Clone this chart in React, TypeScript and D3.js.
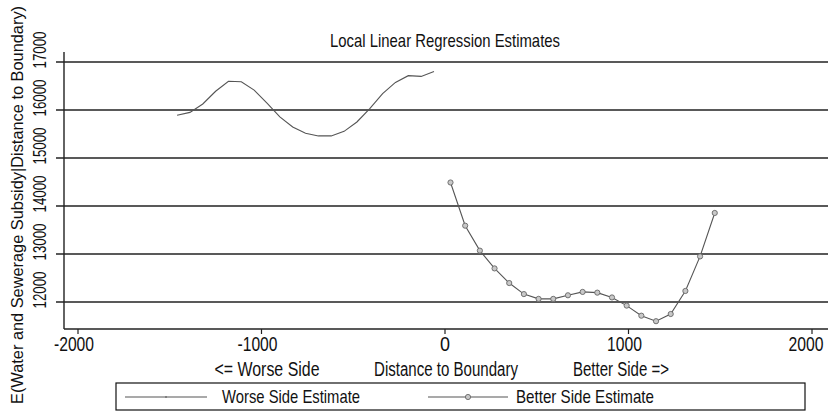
import React from 'react';
import { scaleLinear, line } from 'd3';

// worse side (left of boundary) local linear estimates
const worseX = [
  -1460, -1390, -1320, -1250, -1180, -1110, -1040, -970, -900, -830, -760,
  -690, -620, -550, -480, -410, -340, -270, -200, -130, -60,
];
const worseY = [
  15890, 15950, 16125, 16390, 16600, 16590, 16415, 16145, 15855, 15645, 15515,
  15460, 15460, 15555, 15750, 16030, 16340, 16575, 16715, 16700, 16800,
];

// better side (right of boundary)
const betterX = [
  30, 110, 190, 270, 350, 430, 510, 590, 670, 750, 830, 910, 990, 1070, 1150,
  1230, 1310, 1390, 1470,
];
const betterY = [
  14490, 13590, 13070, 12700, 12395, 12165, 12065, 12065, 12140, 12210, 12195,
  12095, 11925, 11715, 11600, 11750, 12230, 12950, 13855,
];

const xTicks = [-2000, -1000, 0, 1000, 2000];
const yTicks = [12000, 13000, 14000, 15000, 16000, 17000];
const xSubLabels = ['<= Worse Side', 'Distance to Boundary', 'Better Side =>'];
const legendLabels = ['Worse Side Estimate', 'Better Side Estimate'];

const W = 830;
const H = 412;
const FONT = '"Liberation Sans", Arial, sans-serif';

// squeeze text to the condensed width of the original
const fit = (n: number) => ({ textLength: n, lengthAdjust: 'spacingAndGlyphs' as const });

export default function App() {
  const x = scaleLinear().domain([-2000, 2000]).range([78, 812]);
  const y = scaleLinear().domain([12000, 17000]).range([302, 62]);
  const left = 64;
  const right = 828;
  const bottom = 329;

  const worse = worseX.map((v, i) => [v, worseY[i]] as [number, number]);
  const better = betterX.map((v, i) => [v, betterY[i]] as [number, number]);
  const path = line<[number, number]>()
    .x((d) => x(d[0]))
    .y((d) => y(d[1]));

  const tickW = (t: number) => (t === 0 ? 10 : t < 0 ? 40 : 35);

  return (
    <svg
      width={W}
      height={H}
      style={{ position: 'absolute', left: 0, top: 0, background: '#fff' }}
      fontFamily={FONT}
    >
      <text x={445} y={47} textAnchor="middle" fontSize={19} fill="#111" {...fit(230)}>
        Local Linear Regression Estimates
      </text>

      {/* y grid + ticks */}
      {yTicks.map((t) => (
        <g key={t}>
          <line x1={56} x2={right} y1={y(t)} y2={y(t)} stroke="#222" strokeWidth={1.4} />
          <text
            transform={`translate(46,${y(t) - 12}) rotate(-90)`}
            textAnchor="middle"
            fontSize={18}
            fill="#111"
            {...fit(37)}
          >
            {t}
          </text>
        </g>
      ))}
      <line x1={left} x2={left} y1={52} y2={bottom} stroke="#222" strokeWidth={1.4} />
      <line x1={left} x2={right} y1={bottom} y2={bottom} stroke="#222" strokeWidth={1.4} />

      <text
        transform={`translate(23,205) rotate(-90)`}
        textAnchor="middle"
        fontSize={17}
        fill="#111"
        {...fit(398)}
      >
        E(Water and Sewerage Subsidy|Distance to Boundary)
      </text>

      {/* x ticks */}
      {xTicks.map((t) => (
        <g key={t}>
          <line x1={x(t)} x2={x(t)} y1={bottom} y2={bottom + 5} stroke="#222" strokeWidth={1.2} />
          <text
            x={x(t) - (t === 0 ? 0 : t === 2000 ? 6 : 4)}
            y={351}
            textAnchor="middle"
            fontSize={20}
            fill="#111"
            {...fit(tickW(t))}
          >
            {t}
          </text>
        </g>
      ))}
      {xSubLabels.map((s, i) => (
        <text
          key={s}
          x={[267, 446, 621][i]}
          y={376}
          textAnchor="middle"
          fontSize={20}
          fill="#111"
          {...fit([105, 144, 96][i])}
        >
          {s}
        </text>
      ))}

      {/* series */}
      <path d={path(worse) ?? ''} fill="none" stroke="#555" strokeWidth={1.1} />
      <path d={path(better) ?? ''} fill="none" stroke="#555" strokeWidth={1.1} />
      {better.map((d, i) => (
        <circle key={i} cx={x(d[0])} cy={y(d[1])} r={2.6} fill="#c8c8c8" stroke="#666" strokeWidth={0.9} />
      ))}

      {/* legend */}
      <rect x={116} y={383} width={689} height={27} fill="none" stroke="#111" strokeWidth={1.2} />
      <line x1={125} x2={207} y1={397} y2={397} stroke="#555" strokeWidth={1.1} />
      <line x1={166} x2={166} y1={396} y2={398} stroke="#555" strokeWidth={1} />
      <text x={222} y={403} fontSize={19} fill="#111" {...fit(138)}>
        {legendLabels[0]}
      </text>
      <line x1={428} x2={508} y1={397} y2={397} stroke="#555" strokeWidth={1.1} />
      <circle cx={468} cy={397} r={2.6} fill="#c8c8c8" stroke="#666" strokeWidth={0.9} />
      <text x={516} y={403} fontSize={19} fill="#111" {...fit(138)}>
        {legendLabels[1]}
      </text>
    </svg>
  );
}
